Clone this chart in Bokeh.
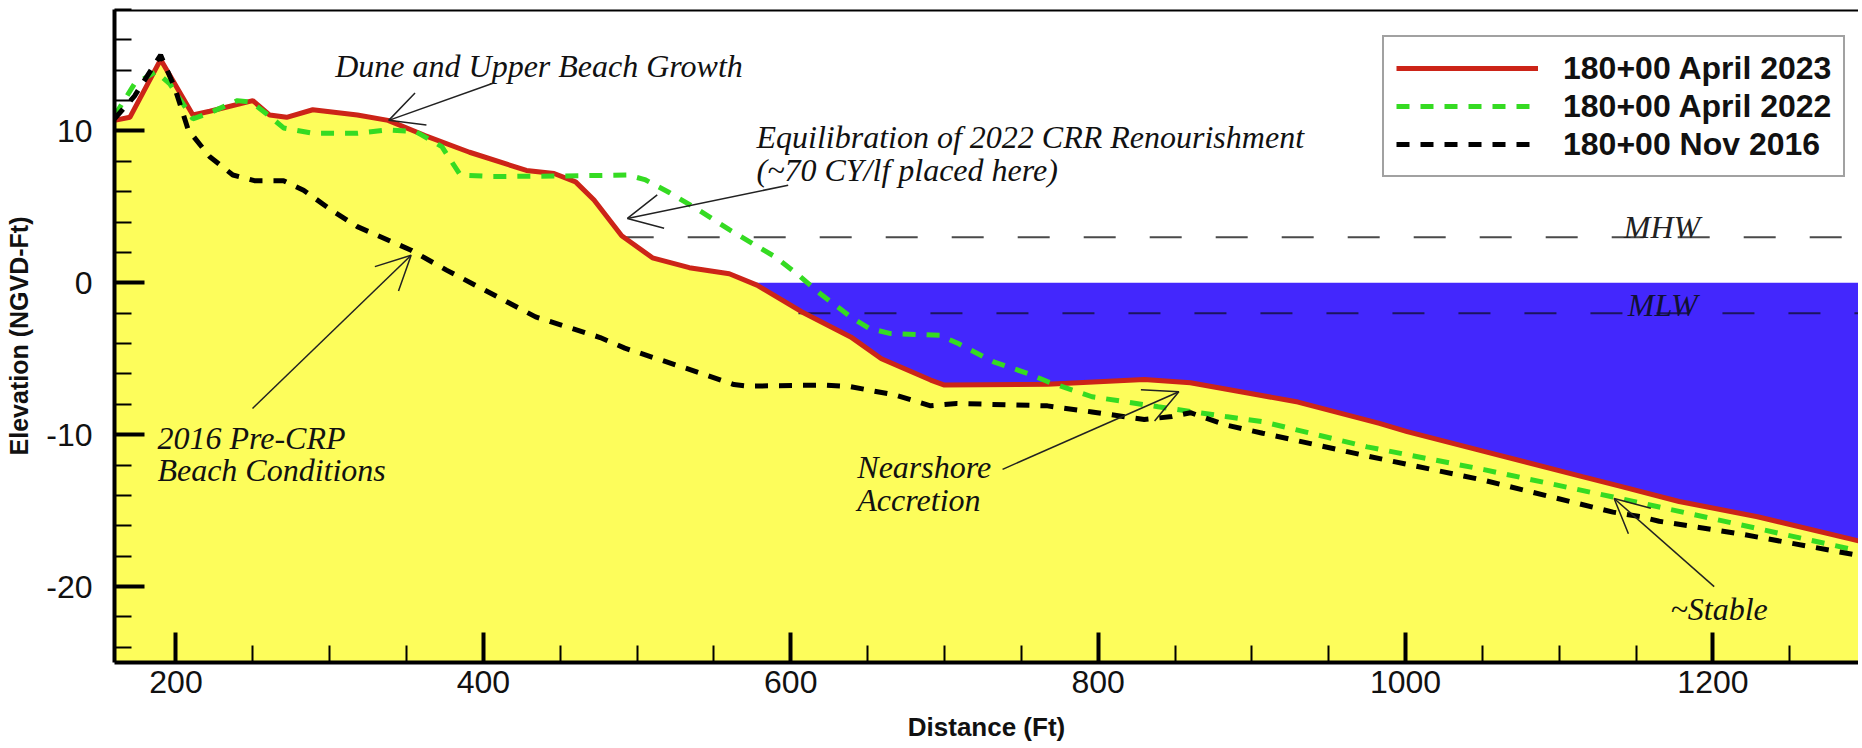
from bokeh.plotting import figure
from bokeh.models import (Legend, LegendItem, Label, Arrow, OpenHead,
                          SingleIntervalTicker, Span, Range1d, PrintfTickFormatter)
from bokeh.embed import file_html
from bokeh.resources import INLINE

# ---------------- data ----------------
x_2023 = [160, 170, 190, 211, 222, 250, 261, 272, 289, 318, 338, 362, 391, 428, 446,
          460, 472, 490, 510, 534, 560, 578, 607, 639, 659, 691, 700, 767, 830, 860,
          900, 930, 983, 1001, 1051, 1115, 1140, 1178, 1229, 1295]
y_2023 = [10.7, 10.9, 14.7, 11.05, 11.3, 12.0, 11.05, 10.9, 11.4, 11.05, 10.7, 9.7, 8.6,
          7.4, 7.2, 6.65, 5.45, 3.1, 1.65, 1.0, 0.6, -0.15, -1.9, -3.56, -5.0, -6.4,
          -6.73, -6.67, -6.36, -6.58, -7.3, -7.85, -9.25, -9.8, -11.1, -12.76, -13.4,
          -14.4, -15.4, -17.0]

x_2022 = [160, 173, 187, 196, 211, 222, 240, 249, 260, 270, 289, 318, 338, 356, 373,
          385, 405, 449, 494, 505, 520, 540, 560, 590, 604, 619, 639, 651, 665, 697,
          709, 732, 755, 767, 796, 839, 883, 907, 975, 1051, 1135, 1203, 1295]
y_2022 = [11.0, 13.1, 13.9, 13.1, 10.8, 11.2, 12.0, 11.9, 11.05, 10.2, 9.85, 9.85,
          10.07, 9.96, 8.97, 7.1, 7.0, 7.03, 7.1, 6.8, 6.0, 4.8, 3.5, 1.7, 0.6, -0.7,
          -2.24, -3.0, -3.34, -3.45, -4.0, -5.2, -6.0, -6.5, -7.5, -8.16, -8.8, -9.14,
          -10.8, -12.3, -14.1, -15.6, -17.65]

x_2016 = [160, 173, 190, 199, 208, 222, 237, 251, 270, 283, 301, 318, 353, 376, 434,
          476, 492, 534, 563, 572, 621, 639, 668, 691, 708, 767, 796, 830, 848, 860,
          883, 907, 975, 1051, 1135, 1153, 1165, 1216, 1295]
y_2016 = [10.8, 12.3, 15.0, 12.9, 10.07, 8.3, 7.1, 6.73, 6.73, 6.1, 4.8, 3.7, 2.15,
          0.84, -2.24, -3.6, -4.3, -5.7, -6.7, -6.8, -6.73, -6.84, -7.39, -8.1, -7.94,
          -8.1, -8.5, -9.0, -8.8, -8.55, -9.36, -9.9, -11.4, -13.0, -15.1, -15.4,
          -15.7, -16.5, -17.95]

series_labels = ["180+00 April 2023", "180+00 April 2022", "180+00 Nov 2016"]

X_MIN, X_MAX = 160, 1294.7
Y_MIN, Y_MAX = -25, 18
SEA_LEVEL = 0
MHW, MHW_START = 3, 490
MLW, MLW_START = -2, 605

# ---------------- styles ----------------
YELLOW = "#fdfd5b"
BLUE = "#4327fd"
RED = "#cc2418"
GREEN = "#35db22"
BLACK = "#000000"
SANS = "Liberation Sans"
SERIF = "Liberation Serif"

p = figure(width=1858, height=747, output_backend="svg", toolbar_location=None,
           x_range=Range1d(X_MIN, X_MAX), y_range=Range1d(Y_MIN, Y_MAX),
           min_border_left=114, min_border_right=0, min_border_top=9,
           min_border_bottom=85)
p.outline_line_color = None
p.xgrid.visible = False
p.ygrid.visible = False
p.background_fill_color = "white"
p.border_fill_color = "white"

# water and sand
p.varea(x=[X_MIN, X_MAX], y1=[Y_MIN, Y_MIN], y2=[SEA_LEVEL, SEA_LEVEL],
        fill_color=BLUE)
p.varea(x=x_2023, y1=[Y_MIN] * len(x_2023), y2=y_2023, fill_color=YELLOW)

# tidal datums
p.line(x=[MHW_START, X_MAX], y=[MHW, MHW], line_color="#4a4a4a",
       line_width=2, line_dash="32 34")
p.line(x=[MLW_START, X_MAX], y=[MLW, MLW], line_color="#1c1460",
       line_width=2, line_dash="32 34")

# profiles
r23 = p.line(x_2023, y_2023, line_color=RED, line_width=5)
r22 = p.line(x_2022, y_2022, line_color=GREEN, line_width=5, line_dash="13 11")
r16 = p.line(x_2016, y_2016, line_color=BLACK, line_width=5, line_dash="13 11")

# top border
p.add_layout(Span(location=Y_MAX, dimension="width", line_color="black",
                  line_width=4))

# axes
p.xaxis.ticker = SingleIntervalTicker(interval=200, num_minor_ticks=4)
p.yaxis.ticker = SingleIntervalTicker(interval=10, num_minor_ticks=5)
p.xaxis.formatter = PrintfTickFormatter(format="%d")
p.yaxis.formatter = PrintfTickFormatter(format="%d")
p.xaxis.axis_label = "Distance (Ft)"
p.yaxis.axis_label = "Elevation (NGVD-Ft)"
for ax in (p.xaxis[0], p.yaxis[0]):
    ax.axis_line_width = 4
    ax.axis_line_color = "black"
    ax.major_tick_line_width = 4
    ax.minor_tick_line_width = 2
    ax.major_tick_in = 30
    ax.major_tick_out = 0
    ax.minor_tick_in = 17
    ax.minor_tick_out = 0
    ax.major_label_text_font = SANS
    ax.major_label_text_font_size = "32px"
    ax.major_label_text_color = "#111111"
    ax.axis_label_text_font = SANS
    ax.axis_label_text_font_style = "bold"
    ax.axis_label_text_color = "#111111"
p.xaxis.axis_label_text_font_size = "26px"
p.yaxis.axis_label_text_font_size = "25px"
p.xaxis.major_label_standoff = 8
p.xaxis.axis_label_standoff = 16
p.yaxis.major_label_standoff = 22
p.yaxis.axis_label_standoff = 10

# legend
legend = Legend(items=[LegendItem(label=series_labels[0], renderers=[r23]),
                       LegendItem(label=series_labels[1], renderers=[r22]),
                       LegendItem(label=series_labels[2], renderers=[r16])],
                location=(1268, 485))
legend.label_text_font = SANS
legend.label_text_font_style = "bold"
legend.label_text_font_size = "32px"
legend.label_text_color = "#111111"
legend.glyph_width = 142
legend.glyph_height = 38
legend.label_height = 38
legend.label_standoff = 25
legend.padding = 12
legend.spacing = 0
legend.margin = 0
legend.border_line_color = "#444444"
legend.border_line_width = 2
legend.background_fill_alpha = 1
p.add_layout(legend)

# annotations
def note(x, y, text, color="#111111"):
    p.add_layout(Label(x=x, y=y, text=text, text_font=SERIF,
                       text_font_style="italic", text_font_size="32px",
                       text_color=color, text_align="left",
                       text_baseline="alphabetic"))

def arrow(x0, y0, x1, y1):
    p.add_layout(Arrow(end=OpenHead(size=34, line_width=1.5, line_color="#222222"),
                       x_start=x0, y_start=y0, x_end=x1, y_end=y1,
                       line_width=1.5, line_color="#222222"))

note(303.6, 14.3, "Dune and Upper Beach Growth")
arrow(406.7, 13.16, 338.4, 10.7)

note(577.7, 9.6, "Equilibration of 2022 CRR Renourishment")
note(577.7, 7.4, "(~70 CY/lf placed here)")
arrow(598.3, 6.43, 493.7, 4.24)

note(1142, 3.68, "MHW", "#222222")
note(1144.6, -1.47, "MLW", "#111133")

note(187.9, -10.24, "2016 Pre-CRP")
note(187.9, -12.3, "Beach Conditions")
arrow(249.8, -8.27, 353, 1.82)

note(643.3, -12.1, "Nearshore")
note(643.3, -14.3, "Accretion")
arrow(737.8, -12.28, 852.5, -7.17)

note(1172.4, -21.5, "~Stable")
arrow(1200.8, -20.0, 1135.7, -14.2)

open("out.html", "w").write(file_html(p, INLINE))
